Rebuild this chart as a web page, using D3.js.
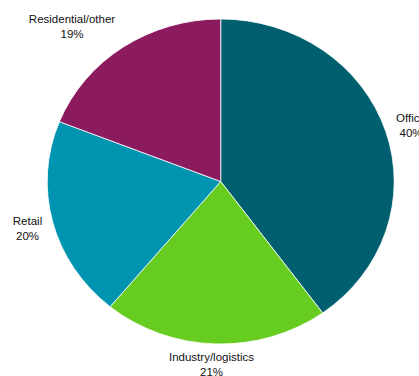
<!DOCTYPE html>
<html>
<head>
<meta charset="utf-8">
<script src="https://cdn.jsdelivr.net/npm/d3@7"></script>
<style>
  html, body { margin: 0; padding: 0; background: #fff; overflow: hidden; }
  svg { display: block; }
  text { font-family: "Liberation Sans", Arial, sans-serif; font-size: 11.5px; fill: #111; }
</style>
</head>
<body>
<svg id="chart" width="419" height="376"></svg>
<script>
// Portfolio split by sector (percent)
const categories = ["Office", "Industry/logistics", "Retail", "Residential/other"];
const values = [40, 21, 20, 19];
const colors = ["#005f6e", "#66cc1f", "#0094b0", "#8b1a5e"];
// Label anchor points (centre of the two-line label block)
const labelPos = [[411, 122], [211.5, 361], [27.5, 225], [72, 23]];

const width = 419, height = 376;
const cx = 220.7, cy = 181.5, rx = 173.5, ry = 162.5;

const svg = d3.select("#chart");

const pie = d3.pie().sort(null).value(d => d)(values);
const arc = d3.arc().innerRadius(0).outerRadius(ry);

// Pie is slightly wider than tall: draw on a circle, then stretch horizontally
const g = svg.append("g")
  .attr("transform", `translate(${cx},${cy}) scale(${rx / ry},1)`);

g.selectAll("path")
  .data(pie)
  .join("path")
  .attr("d", arc)
  .attr("fill", (d, i) => colors[i])
  .attr("stroke", "#ffffff")
  .attr("stroke-width", 0.8)
  .attr("vector-effect", "non-scaling-stroke");

const labels = svg.append("g");
categories.forEach((c, i) => {
  const t = labels.append("text")
    .attr("text-anchor", "middle")
    .attr("x", labelPos[i][0])
    .attr("y", labelPos[i][1]);
  t.append("tspan").attr("x", labelPos[i][0]).text(c);
  t.append("tspan").attr("x", labelPos[i][0]).attr("dy", 14.5).text(values[i] + "%");
});
</script>
</body>
</html>
